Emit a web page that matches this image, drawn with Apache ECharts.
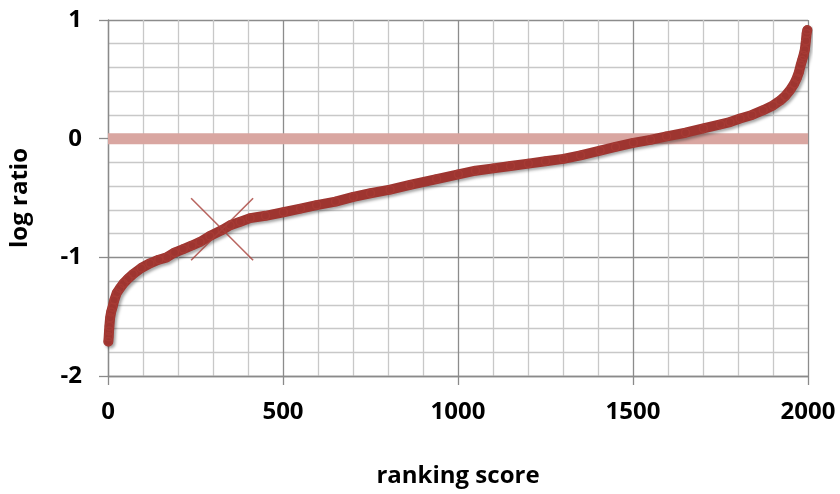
<!DOCTYPE html>
<html>
<head>
<meta charset="utf-8">
<script src="https://cdn.jsdelivr.net/npm/echarts@6/dist/echarts.min.js"></script>
<style>
  html, body { margin: 0; padding: 0; background: #fff; }
  #chart { width: 840px; height: 494px; }
</style>
</head>
<body>
<div id="chart"></div>
<script>
// Ranked log ratios (rank position, log ratio)
const ranks = [1, 2, 3, 4, 6, 9, 13, 18, 25, 34, 44, 57, 72, 95, 120, 145, 168, 190, 215, 240, 263, 291,
  326, 349, 378, 406, 450, 501, 550, 596, 650, 701, 750, 806, 863, 939, 1001, 1050, 1101, 1150, 1201,
  1250, 1301, 1350, 1406, 1450, 1501, 1550, 1596, 1650, 1701, 1750, 1777, 1806, 1840, 1872, 1900,
  1920, 1935, 1949, 1960, 1968, 1974, 1979, 1983, 1987, 1991, 1994, 1996, 1998];
const logRatios = [-1.71, -1.67, -1.62, -1.58, -1.51, -1.46, -1.42, -1.36, -1.30, -1.26, -1.22, -1.18, -1.14,
  -1.09, -1.05, -1.02, -1.00, -0.96, -0.93, -0.90, -0.87, -0.82,
  -0.77, -0.73, -0.70, -0.67, -0.65, -0.62, -0.59, -0.56, -0.53, -0.49, -0.46, -0.43, -0.39, -0.34,
  -0.30, -0.27, -0.25, -0.23, -0.21, -0.19, -0.17, -0.14, -0.10, -0.07, -0.035, -0.01, 0.02, 0.05,
  0.086, 0.12, 0.14, 0.17, 0.20, 0.24, 0.28, 0.32, 0.36, 0.41, 0.46, 0.51, 0.56, 0.62, 0.66, 0.70,
  0.75, 0.825, 0.887, 0.915];

// Highlighted item
const markedRank = [326];
const markedRatio = [-0.763];

// Reference level
const baseline = [[0, 0], [2000, 0]];

const xTicks = { min: 0, max: 2000, step: 500 };
const yTicks = { min: -2, max: 1, step: 1 };

const curve = ranks.map((r, i) => [r, logRatios[i]]);
const marked = markedRank.map((r, i) => [r, markedRatio[i]]);

const labelFont = { fontFamily: 'Open Sans', fontWeight: 'bold', fontSize: 24, color: '#000' };
const curveColor = '#9e3530';

const chart = echarts.init(document.getElementById('chart'), null, { renderer: 'canvas' });
chart.setOption({
  animation: false,
  grid: { left: 108, right: 32, top: 20, bottom: 118 },
  xAxis: {
    type: 'value', min: xTicks.min, max: xTicks.max, interval: xTicks.step,
    axisLine: { show: true, onZero: false, lineStyle: { color: '#8a8a8a', width: 1.3 } },
    axisTick: { show: true, length: 9, lineStyle: { color: '#8a8a8a', width: 1.3 } },
    axisLabel: Object.assign({ margin: 24, formatter: v => String(v) }, labelFont),
    splitLine: { show: true, lineStyle: { color: '#8c8c8c', width: 1.3 } },
    minorTick: { show: false, splitNumber: 5 },
    minorSplitLine: { show: true, lineStyle: { color: '#c8c8c8', width: 1.3 } },
    name: 'ranking score', nameLocation: 'middle', nameGap: 88,
    nameTextStyle: labelFont
  },
  yAxis: {
    type: 'value', min: yTicks.min, max: yTicks.max, interval: yTicks.step,
    axisLine: { show: true, onZero: false, lineStyle: { color: '#8a8a8a', width: 1.3 } },
    axisTick: { show: true, length: 9, lineStyle: { color: '#8a8a8a', width: 1.3 } },
    axisLabel: Object.assign({ margin: 26, formatter: v => String(v) }, labelFont),
    splitLine: { show: true, lineStyle: { color: '#8c8c8c', width: 1.3 } },
    minorTick: { show: false, splitNumber: 5 },
    minorSplitLine: { show: true, lineStyle: { color: '#c8c8c8', width: 1.3 } },
    name: 'log ratio', nameLocation: 'middle', nameGap: 76, nameRotate: 90,
    nameTextStyle: labelFont
  },
  series: [
    {
      type: 'line', data: baseline, showSymbol: false, silent: true, z: 1,
      lineStyle: { color: '#d9a6a1', width: 11, cap: 'butt' }
    },
    {
      type: 'line', data: curve, showSymbol: false, z: 3,
      lineStyle: { color: curveColor, width: 10, join: 'round', cap: 'round',
        shadowColor: 'rgba(0,0,0,0.35)', shadowBlur: 3, shadowOffsetX: 2, shadowOffsetY: 2 }
    },
    {
      type: 'scatter', data: curve, symbol: 'circle', symbolSize: 8, z: 4,
      itemStyle: { color: 'rgba(0,0,0,0)', borderColor: '#a83c36', borderWidth: 1.5 }
    },
    {
      type: 'scatter', data: marked, z: 5,
      symbol: 'path://M0,0L10,10M10,0L0,10', symbolSize: 62,
      itemStyle: { color: 'none', borderColor: '#a8403a', borderWidth: 1.6 }
    }
  ]
});
</script>
</body>
</html>
